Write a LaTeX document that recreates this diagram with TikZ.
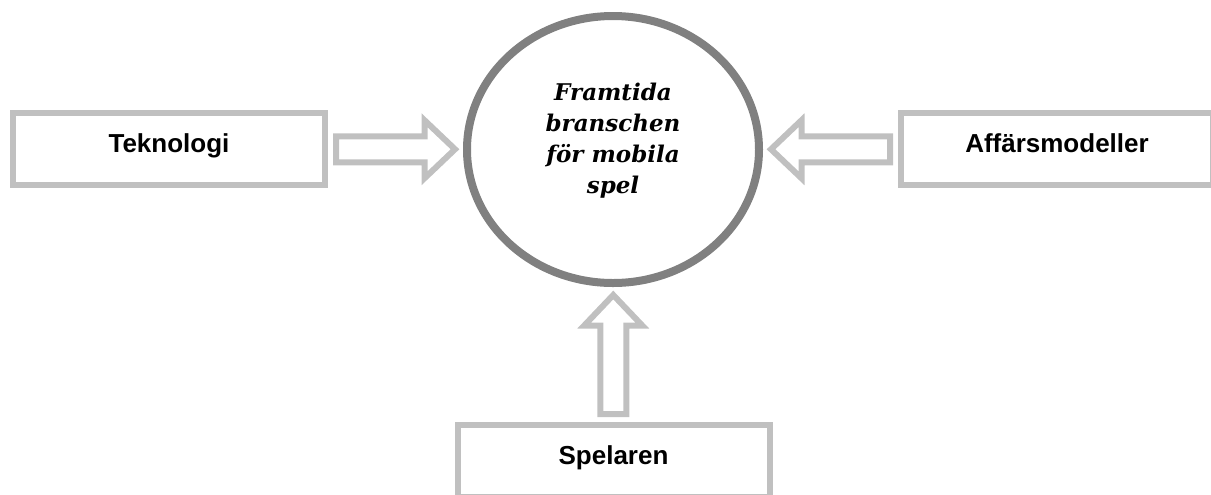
\documentclass[tikz,border=0pt]{standalone}
\usepackage{fontspec}
\newfontfamily\arialfont{Liberation Sans}
\newfontfamily\ringfont{DejaVu Serif}
\usetikzlibrary{shapes.geometric}
\definecolor{boxgray}{HTML}{C0C0C0}
\definecolor{ringgray}{HTML}{808080}
\newcommand{\px}{0.5pt} % en pixel i originalbilden
\begin{document}
\begin{tikzpicture}[x=\px, y=-\px, line join=miter,
	font=\arialfont\bfseries\fontsize{13}{15}\selectfont]
	\tikzset{
		faktor/.style={draw=boxgray, line width=6*\px, minimum width=312*\px, minimum height=72*\px,
			inner sep=0pt, text height=9.5pt, text depth=6.2pt},
		fatpil/.pic={\draw[draw=boxgray, line width=6*\px] (-59.5,-13) -- (29,-13) -- (29,-29) -- (59.5,0)
			-- (29,29) -- (29,13) -- (-59.5,13) -- cycle;},
		ring/.style={ellipse, draw=ringgray, line width=8*\px, minimum width=292*\px, minimum height=267*\px, inner sep=0pt},
		ringtext/.style={align=center, font=\ringfont\bfseries\itshape\fontsize{11.5}{15.5}\selectfont}
	}
	\useasboundingbox (0,0) rectangle (1211,494);
	\clip (0,0) rectangle (1211,494);
	% mitten
	\node[ring] (fut) at (613,149.5) {};
	\node[ringtext] (futtext) at (613,141) {Framtida\\branschen\\för mobila\\spel};
	% de tre faktorerna
	\node[faktor] (tek) at (169,149) {Teknologi};
	\node[faktor] (aff) at (1057,149) {Affärsmodeller};
	\node[faktor] (spel) at (613.5,461) {Spelaren};
	% pilar mot mitten
	\path (tek.east) -- pic[pos=0.5] (piltek) {fatpil} (fut.west);
	\path (aff.west) -- pic[pos=0.5, rotate=180] (pilaff) {fatpil} (fut.east);
	\path (spel.north) -- pic[pos=0.5, rotate=90] (pilspel) {fatpil} (fut.south);
\end{tikzpicture}
\end{document}
